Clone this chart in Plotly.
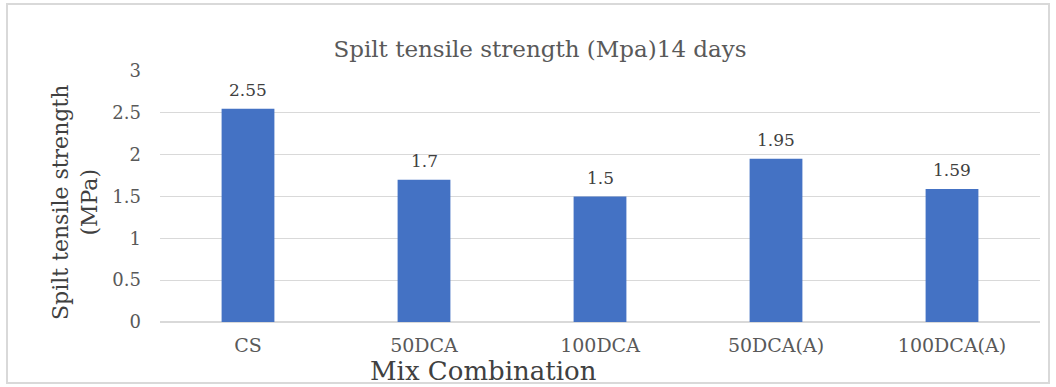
import plotly.graph_objects as go

categories = ["CS", "50DCA", "100DCA", "50DCA(A)", "100DCA(A)"]
values = [2.55, 1.7, 1.5, 1.95, 1.59]
value_labels = ["2.55", "1.7", "1.5", "1.95", "1.59"]
y_ticks = [0, 0.5, 1, 1.5, 2, 2.5, 3]
y_tick_labels = ["0", "0.5", "1", "1.5", "2", "2.5", "3"]

FONT = "DejaVu Serif, Liberation Serif, serif"

fig = go.Figure(go.Bar(
    x=categories, y=values, marker_color="#4472C4", marker_line_width=0,
))

label_annotations = [
    dict(x=c, y=v, text=t, xref="x", yref="y", showarrow=False, yanchor="middle",
         yshift=19, font=dict(family=FONT, size=17, color="#404040"))
    for c, v, t in zip(categories, values, value_labels)
]

fig.update_layout(
    width=1056, height=387,
    margin=dict(l=160, r=16, t=71, b=65),
    paper_bgcolor="white", plot_bgcolor="white",
    bargap=0.7, showlegend=False,
    font=dict(family=FONT),
    title=dict(text="Spilt tensile strength (Mpa)14 days", x=540/1056, xanchor="center",
               y=1-49/387, yanchor="middle",
               font=dict(family=FONT, size=23, color="#595959")),
    shapes=[dict(type="rect", xref="paper", yref="paper", x0=-153/880, x1=(1049-160)/880,
                 y0=-(383-322)/251, y1=(322-4)/251,
                 line=dict(color="#d9d9d9", width=2), layer="below")],
    annotations=label_annotations + [
        dict(text="Mix Combination", xref="paper", yref="paper",
             x=(483-160)/880, y=-(371-322)/251, xanchor="center", yanchor="middle",
             showarrow=False, font=dict(family=FONT, size=26, color="#404040")),
        dict(text="Spilt tensile strength<br>(MPa)", xref="paper", yref="paper",
             x=-(160-75)/880, y=(322-203)/251, xanchor="center", yanchor="middle", textangle=-90,
             showarrow=False, font=dict(family=FONT, size=22, color="#404040")),
    ],
)
fig.update_xaxes(showgrid=False, showline=False, ticks="", tickfont=dict(family=FONT, size=19, color="#595959"),
                 ticklabelstandoff=10)
fig.update_yaxes(range=[0, 3], tickvals=y_ticks, ticktext=y_tick_labels, showgrid=True,
                 gridcolor="#d9d9d9", gridwidth=1, zeroline=True, zerolinecolor="#d9d9d9",
                 showline=False, ticks="", tickfont=dict(family=FONT, size=18, color="#595959"),
                 ticklabelstandoff=18)

fig.write_html("out.html")
